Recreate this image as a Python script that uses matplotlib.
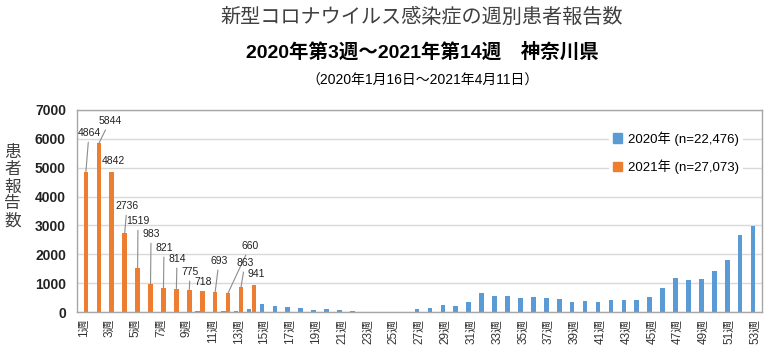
import numpy as np
import matplotlib.pyplot as plt
from matplotlib.patches import Patch

# weekly case counts (Kanagawa), week 1..53
weeks = [f"{w}週" for w in range(1, 54)]
cases_2020 = [0, 0, 1, 0, 1, 2, 5, 10, 15, 20, 15, 25, 40, 120,
              280, 212, 165, 140, 60, 95, 60, 20, 10, 10, 10, 15,
              120, 140, 235, 210, 350, 650, 565, 540, 490, 510, 490,
              440, 360, 385, 360, 405, 405, 405, 535, 815, 1175, 1115,
              1150, 1420, 1790, 2675, 2965]
cases_2021 = [4864, 5844, 4842, 2736, 1519, 983, 821, 814, 775, 718,
              693, 660, 863, 941]
legend_labels = ["2020年 (n=22,476)", "2021年 (n=27,073)"]

# label placement for 2021 values (x in category units, y in data units)
label_pos = [(0.43, 6200), (2.05, 6620), (2.29, 5230), (3.37, 3670),
             (4.22, 3150), (5.23, 2700), (6.23, 2220), (7.24, 1840),
             (8.25, 1390), (9.25, 1040), (10.49, 1770), (12.89, 2290),
             (12.5, 1700), (13.35, 1320)]
has_leader = [True, True, False, True, True, True, True, True,
              True, False, True, True, True, False]

BLUE = "#5B9BD5"
ORANGE = "#ED7D31"
LATIN_CJK = ["Liberation Sans", "Noto Sans CJK JP"]

plt.rcParams["font.family"] = LATIN_CJK

fig = plt.figure(figsize=(7.68, 3.51), dpi=100)
ax = fig.add_axes([77 / 768, 39 / 351, 685 / 768, 202 / 351])

x = np.arange(len(weeks))
w = 0.36
ax.bar(x - 0.19, cases_2020, width=w, color=BLUE, zorder=2)
x21 = np.arange(len(cases_2021))
ax.bar(x21 + 0.19, cases_2021, width=w, color=ORANGE, zorder=2)

for i, (val, (tx, ty), lead) in enumerate(zip(cases_2021, label_pos, has_leader)):
    if lead:
        ax.annotate(str(val), xy=(i + 0.19, val), xytext=(tx, ty),
                    fontsize=7.5, ha="center", va="center", color="#222222",
                    arrowprops=dict(arrowstyle="-", color="#8c8c8c", lw=0.8,
                                    shrinkA=1, shrinkB=0))
    else:
        ax.text(tx, ty, str(val), fontsize=7.5, ha="center", va="center",
                color="#222222")

ax.set_xlim(-0.5, len(weeks) - 0.5)
ax.set_ylim(0, 7000)
ax.set_yticks(range(0, 7001, 1000))
ax.set_yticklabels([str(v) for v in range(0, 7001, 1000)],
                   fontsize=10, fontweight="bold", color="#222222")
ax.set_xticks(x[::2])
ax.set_xticklabels(weeks[::2], rotation=90, fontsize=8.5, color="#333333")
ax.tick_params(axis="both", length=0)
ax.tick_params(axis="x", pad=5)
ax.tick_params(axis="y", pad=8)
ax.grid(True, axis="y", color="#d9d9d9", lw=1, zorder=0)
for sp in ax.spines.values():
    sp.set_color("#a6a6a6")
    sp.set_linewidth(1)

handles = [Patch(color=BLUE), Patch(color=ORANGE)]
leg = ax.legend(handles, legend_labels, loc="center",
                bbox_to_anchor=(676 / 768, 1 - 152.5 / 351),
                bbox_transform=fig.transFigure, fontsize=9.5,
                handlelength=0.7, handleheight=0.7, handletextpad=0.5,
                labelspacing=1.05, borderpad=0.3, frameon=True,
                fancybox=False, framealpha=1)
leg.get_frame().set_edgecolor("none")
leg.get_frame().set_facecolor("white")

fig.text(422 / 768, 1 - 17 / 351, "新型コロナウイルス感染症の週別患者報告数",
         ha="center", va="center", fontsize=14.5, color="#404040",
         family="Noto Sans CJK JP")
fig.text(422 / 768, 1 - 52 / 351, "2020年第3週〜2021年第14週　神奈川県",
         ha="center", va="center", fontsize=14, fontweight="bold",
         color="black")
fig.text(422 / 768, 1 - 81 / 351, "（2020年1月16日〜2021年4月11日）",
         ha="center", va="center", fontsize=10, color="black")
fig.text(12.5 / 768, 1 - 187 / 351, "\n".join("患者報告数"),
         ha="center", va="center", fontsize=12, linespacing=1.0,
         color="#404040", family="Noto Sans CJK JP")

fig.savefig("out.png", dpi=100)
